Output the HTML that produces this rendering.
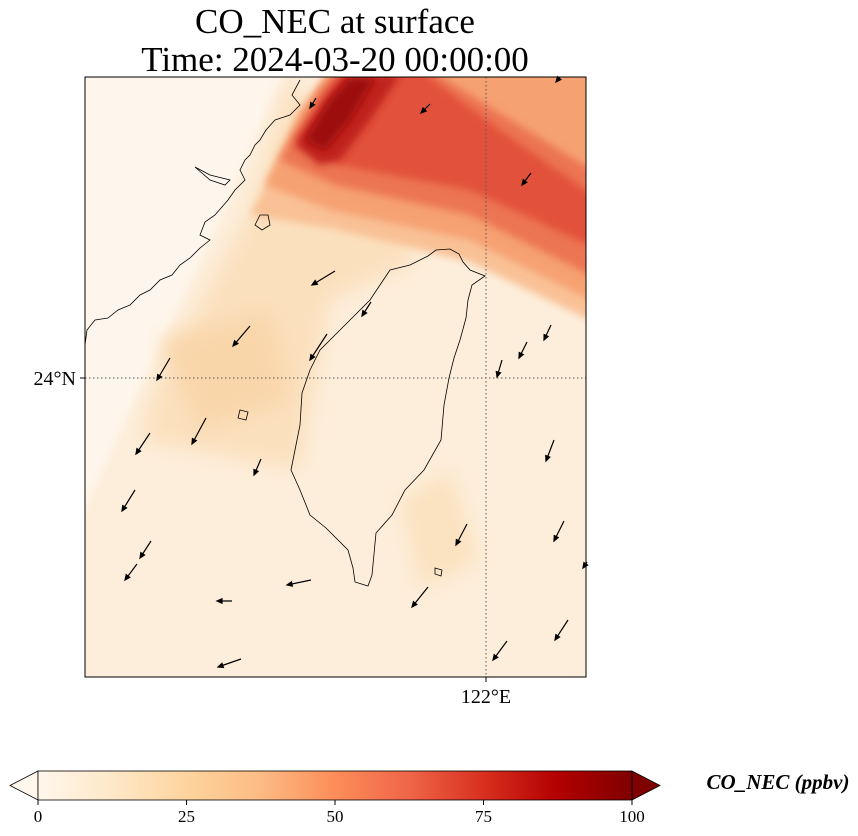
<!DOCTYPE html>
<html><head><meta charset="utf-8"><style>
html,body{margin:0;padding:0;background:#fff;width:858px;height:836px;overflow:hidden}
svg{display:block}
text{font-family:"Liberation Serif","DejaVu Serif",serif}
</style></head><body>
<svg width="858" height="836" viewBox="0 0 858 836">
<defs>
<linearGradient id="cb" x1="0" x2="1" y1="0" y2="0">
<stop offset="0" stop-color="#fff7ec"/><stop offset="0.125" stop-color="#fee8c8"/>
<stop offset="0.25" stop-color="#fdd49e"/><stop offset="0.375" stop-color="#fdbb84"/>
<stop offset="0.5" stop-color="#fc8d59"/><stop offset="0.625" stop-color="#ef6548"/>
<stop offset="0.75" stop-color="#d7301f"/><stop offset="0.875" stop-color="#b30000"/>
<stop offset="1" stop-color="#7f0000"/></linearGradient>
<clipPath id="mapclip"><rect x="85" y="77" width="501" height="600"/></clipPath>
<filter id="bl" x="-20%" y="-20%" width="140%" height="140%"><feGaussianBlur stdDeviation="10"/></filter>
<filter id="bl2" x="-20%" y="-20%" width="140%" height="140%"><feGaussianBlur stdDeviation="4"/></filter>
</defs>
<text x="335" y="33" font-size="35" text-anchor="middle">CO_NEC at surface</text>
<text x="335" y="71" font-size="35" text-anchor="middle">Time: 2024-03-20 00:00:00</text>
<g clip-path="url(#mapclip)">
<rect x="85" y="77" width="501" height="600" fill="#fdeedb"/>
<polygon points="60,60 290,60 215,230 130,410 60,560" fill="#fef6ec" filter="url(#bl2)"/>
<polygon points="290,77 250,210 150,400 140,440 300,470 330,300 420,260" fill="#fbe0bd" filter="url(#bl)"/>
<polygon points="160,340 270,310 290,400 200,430" fill="#f9d6aa" filter="url(#bl)"/>
<polygon points="400,500 450,470 480,560 420,590" fill="#fbe2c0" filter="url(#bl)"/>
<polygon points="250,215 290,140 330,70 600,70 600,325 470,262 330,228" fill="#f9c195" filter="url(#bl2)"/>
<polygon points="265,185 300,110 330,70 600,70 600,305 470,240 330,210" fill="#f6a172" filter="url(#bl2)"/>
<polygon points="280,160 320,90 340,70 430,70 600,175 600,280 470,215 335,185" fill="#ec7452" filter="url(#bl2)"/>
<polygon points="295,140 330,85 345,70 420,70 500,130 600,200 600,250 470,190 340,165" fill="#e2513a" filter="url(#bl2)"/>
<polygon points="295,145 325,100 345,75 400,75 370,120 340,160 320,165" fill="#c0201a" filter="url(#bl2)"/>
<polygon points="305,140 330,100 350,78 375,78 350,120 325,150" fill="#9c0808" filter="url(#bl2)"/>
</g>
<g fill="none" stroke="#000" stroke-width="0.8" clip-path="url(#mapclip)">
<path d="M428,256 L436,250 L450,249 L459,254 L463,262 L470,270 L485,276 L472,285 L468,300 L466,318 L460,340 L454,358 L449,378 L444,405 L441,440 L424,470 L405,490 L392,515 L376,533 L372,575 L368,586 L355,582 L353,568 L348,550 L326,528 L310,515 L300,490 L291,470 L296,445 L300,425 L302,393 L310,370 L320,350 L340,330 L355,315 L370,300 L380,285 L390,270 L410,265 Z"/>
<path d="M300,80 L292,95 L300,105 L290,115 L275,120 L266,130 L260,140 L255,145 L250,155 L245,160 L240,170 L245,180 L235,190 L228,200 L215,215 L205,222 L200,235 L210,240 L200,248 L190,258 L180,265 L172,275 L160,280 L150,290 L140,295 L130,305 L118,310 L108,318 L95,320 L87,330 L85,345"/>
<path d="M195,167 L210,175 L230,180 L225,185 L210,180 Z"/>
<path d="M260,215 L268,215 L270,225 L262,230 L255,225 Z"/>
<path d="M240,410 L248,412 L246,420 L238,418 Z"/>
<path d="M435,568 L442,570 L441,576 L435,574 Z"/>
</g>
<g stroke="#555" stroke-width="1" stroke-dasharray="1.5,2.5">
<line x1="486" y1="77" x2="486" y2="677"/>
<line x1="85" y1="378" x2="586" y2="378"/>
</g>
<g id="arrows"></g>
<rect x="85" y="77" width="501" height="600" fill="none" stroke="#000" stroke-width="1"/>
<line x1="80" y1="378" x2="85" y2="378" stroke="#000"/>
<line x1="486" y1="677" x2="486" y2="682" stroke="#000"/>
<text x="76" y="385" font-size="20" text-anchor="end">24°N</text>
<text x="486" y="703" font-size="20" text-anchor="middle">122°E</text>
<g>
<polygon points="38,771 10,785.5 38,800" fill="#fff7ec" stroke="#000" stroke-width="0.8"/>
<polygon points="632,771 660,785.5 632,800" fill="#7f0000" stroke="#000" stroke-width="0.8"/>
<rect x="38" y="771" width="594" height="29" fill="url(#cb)" stroke="#000" stroke-width="0.8"/>
<g id="cbticks"></g>
<text x="778" y="789" font-size="21" font-weight="bold" font-style="italic" text-anchor="middle">CO_NEC (ppbv)</text>
</g>
</svg>
<script>
const cbTicks=[0,25,50,75,100];
const arrowTails=[[335,271],[250,326],[327,334],[170,358],[150,433],[206,418],[261,459],[135,490],[151,541],[137,564],[311,580],[232,601],[241,659],[467,524],[428,587],[507,641],[554,440],[564,521],[568,620],[502,360],[527,342],[551,325],[371,302],[430,104],[531,173],[316,98],[560,77],[587,562]];
const arrowHeads=[[312,285],[233,346],[310,360],[157,380],[136,454],[192,444],[254,475],[122,511],[140,558],[125,580],[287,585],[217,601],[218,667],[456,545],[412,607],[493,660],[546,461],[554,541],[555,640],[497,377],[519,358],[544,340],[362,316],[421,113],[522,185],[310,108],[556,82],[583,568]];
const NS="http://www.w3.org/2000/svg";
const cx=v=>38+v/100*594;
const tg=document.getElementById('cbticks');
cbTicks.forEach(v=>{
 const l=document.createElementNS(NS,'line');
 l.setAttribute('x1',cx(v));l.setAttribute('x2',cx(v));l.setAttribute('y1',800);l.setAttribute('y2',805);l.setAttribute('stroke','#000');
 
 
 tg.appendChild(l);
 const t=document.createElementNS(NS,'text');
 t.setAttribute('x',cx(v));t.setAttribute('y',822);t.setAttribute('font-size','17');t.setAttribute('text-anchor','middle');
 t.textContent=v;
 
 
 tg.appendChild(t);
});
const ag=document.getElementById('arrows');
arrowTails.forEach((a,i)=>{
 const h=arrowHeads[i];
 const dx=h[0]-a[0],dy=h[1]-a[1],L=Math.hypot(dx,dy),ux=dx/L,uy=dy/L;
 const p=document.createElementNS(NS,'path');
 const bx=h[0]-ux*5,by=h[1]-uy*5;
 p.setAttribute('d',`M${a[0]},${a[1]}L${h[0]},${h[1]}M${bx-uy*2.2},${by+ux*2.2}L${h[0]},${h[1]}L${bx+uy*2.2},${by-ux*2.2}Z`);
 p.setAttribute('stroke','#000');p.setAttribute('stroke-width','1.2');p.setAttribute('fill','#000');
 
 
 ag.appendChild(p);
});
</script>
</body></html>
